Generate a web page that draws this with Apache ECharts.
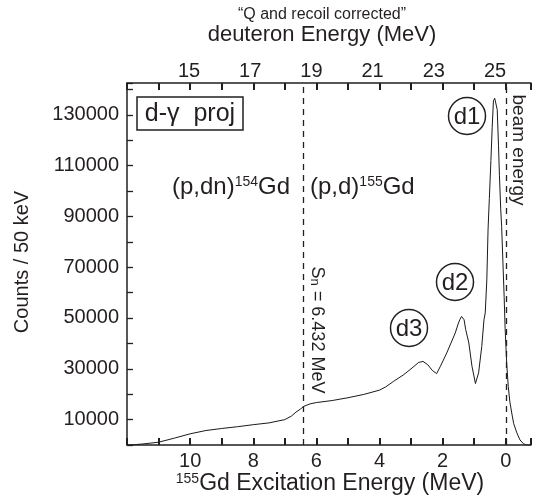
<!DOCTYPE html>
<html><head><meta charset="utf-8">
<script src="https://cdn.jsdelivr.net/npm/echarts@6/dist/echarts.min.js"></script>
<style>html,body{margin:0;padding:0;background:#fff}#c{width:534px;height:504px}</style>
</head><body><div id="c"></div>
<script>
// ---- data ----
const excitationMeV = [12.0, 11.8, 11.5, 11.0, 10.5, 10.0, 9.5, 9.0, 8.5, 8.0, 7.5, 7.0, 6.8, 6.65, 6.5, 6.4, 6.2, 6.0, 5.5, 5.0, 4.5, 4.0, 3.8, 3.55, 3.23, 2.97, 2.76, 2.62, 2.47, 2.33, 2.19, 2.07, 1.87, 1.6, 1.5, 1.45, 1.4, 1.37, 1.32, 1.27, 1.17, 1.07, 0.96, 0.86, 0.76, 0.69, 0.65, 0.6, 0.56, 0.52, 0.47, 0.43, 0.39, 0.35, 0.31, 0.27, 0.23, 0.2, 0.16, 0.13, 0.09, 0.05, 0.02, -0.03, -0.08, -0.13, -0.19, -0.25, -0.35, -0.45, -0.56, -0.65, -0.8];
const counts = [0, 100, 400, 1100, 2700, 4400, 5700, 6500, 7200, 8000, 8700, 10000, 11300, 12900, 14200, 15200, 16200, 16700, 17500, 18600, 19900, 21600, 22900, 25100, 27700, 30300, 32500, 32900, 31600, 29400, 28100, 31000, 36200, 44100, 48000, 49500, 50600, 51000, 49300, 45500, 40200, 31000, 24200, 28400, 38800, 49300, 52000, 65000, 85000, 97000, 112000, 125000, 135500, 136500, 136000, 132000, 118000, 106000, 93000, 86000, 72000, 58000, 46000, 32000, 23000, 17000, 12600, 8500, 4800, 2000, 500, 0, 0];
const yTickLabels = [10000, 30000, 50000, 70000, 90000, 110000, 130000];
const bottomTickLabels = [10, 8, 6, 4, 2, 0];
const topTickLabels = [15, 17, 19, 21, 23, 25];
const snEnergy = 6.432;
const beamEnergy = 0;

const FONT = 'Liberation Sans, Arial, sans-serif';
const INK = '#231f20';
const seriesData = excitationMeV.map((x, i) => [x, counts[i]]);

function mkTick() {
  return {show: true, inside: true, interval: 0, alignWithLabel: false, length: 7, lineStyle: {color: INK, width: 2}};
}
function mkLine() {
  return {show: true, onZero: false, lineStyle: {color: INK, width: 1.5}};
}
const center = {align: 'center', verticalAlign: 'middle', textAlign: 'center', textVerticalAlign: 'middle'};
const left = {align: 'left', verticalAlign: 'middle', textAlign: 'left', textVerticalAlign: 'middle'};

const chart = echarts.init(document.getElementById('c'));
chart.setOption({
  animation: false,
  grid: {left: 127, right: 3, top: 83, bottom: 59, containLabel: false, outerBoundsMode: 'none'},
  xAxis: [
    {type: 'value', position: 'bottom', min: -0.8, max: 12, inverse: true, minInterval: 1, maxInterval: 1, z: 5,
      axisLine: mkLine(), splitLine: {show: false}, axisTick: mkTick(),
      axisLabel: {show: true, interval: 0, margin: 6, fontSize: 20, fontFamily: FONT, color: INK, hideOverlap: false,
        formatter: v => bottomTickLabels.includes(v) ? String(v) : ''}},
    {type: 'value', position: 'top', min: -0.8, max: 12, inverse: true, minInterval: 1, maxInterval: 1, z: 5,
      axisLine: mkLine(), splitLine: {show: false}, axisTick: mkTick(), axisLabel: {show: false}},
    {type: 'value', position: 'top', min: 12.974, max: 26.176, minInterval: 1, maxInterval: 1,
      axisLine: {show: false, onZero: false}, axisTick: {show: false}, splitLine: {show: false},
      axisLabel: {show: true, interval: 0, margin: 2, fontSize: 20, fontFamily: FONT, color: INK,
        formatter: v => topTickLabels.includes(v) ? String(v) : ''}}
  ],
  yAxis: {
    type: 'value', min: 0, max: 142500, interval: 10000,
    axisLine: mkLine(), splitLine: {show: false}, axisTick: {show: true, inside: true, interval: 0, length: 6, lineStyle: {color: INK, width: 1.3}},
    axisLabel: {show: true, interval: 0, margin: 8, fontSize: 20, fontFamily: FONT, color: INK,
      formatter: v => yTickLabels.includes(v) ? String(v) : ''}
  },
  series: [{
    type: 'line', xAxisIndex: 0, yAxisIndex: 0, data: seriesData, showSymbol: false,
    lineStyle: {color: '#1a1a1a', width: 1},
    markLine: {
      silent: true, symbol: ['none', 'none'], label: {show: false},
      lineStyle: {color: INK, type: [6, 5], width: 1.3},
      data: [{xAxis: snEnergy}, {xAxis: beamEnergy}]
    }
  }],
  graphic: [
    {type: 'text', x: 322, y: 15, style: Object.assign({text: '\u201cQ and recoil corrected\u201d', font: '16px ' + FONT, fill: INK}, center)},
    {type: 'text', x: 322, y: 35, style: Object.assign({text: 'deuteron Energy (MeV)', font: '22px ' + FONT, fill: INK}, center)},
    {type: 'text', x: 22, y: 262, rotation: Math.PI / 2, style: Object.assign({text: 'Counts / 50 keV', font: '20px ' + FONT, fill: INK}, center)},
    {type: 'text', x: 330, y: 484, style: Object.assign({text: '{s|155}{n|Gd Excitation Energy (MeV)}', fill: INK,
      rich: {s: {fontSize: 14, fontFamily: FONT, fill: INK, verticalAlign: 'top'}, n: {fontSize: 23, fontFamily: FONT, fill: INK}}}, center)},
    {type: 'rect', shape: {x: 137, y: 97, width: 106, height: 33}, style: {fill: 'none', stroke: INK, lineWidth: 1.5}},
    {type: 'text', x: 190, y: 114, style: Object.assign({text: 'd-\u03b3  proj', font: '25px ' + FONT, fill: INK}, center)},
    {type: 'text', x: 172, y: 187, style: Object.assign({text: '{n|(p,dn)}{s|154}{n|Gd}', fill: INK,
      rich: {s: {fontSize: 14, fontFamily: FONT, fill: INK, verticalAlign: 'top'}, n: {fontSize: 24, fontFamily: FONT, fill: INK}}}, left)},
    {type: 'text', x: 310, y: 187, style: Object.assign({text: '{n|(p,d)}{s|155}{n|Gd}', fill: INK,
      rich: {s: {fontSize: 14, fontFamily: FONT, fill: INK, verticalAlign: 'top'}, n: {fontSize: 24, fontFamily: FONT, fill: INK}}}, left)},
    {type: 'circle', shape: {cx: 467, cy: 116, r: 18.5}, style: {fill: 'none', stroke: INK, lineWidth: 1.5}},
    {type: 'text', x: 467, y: 117, style: Object.assign({text: 'd1', font: '24px ' + FONT, fill: INK}, center)},
    {type: 'circle', shape: {cx: 455, cy: 282, r: 18.5}, style: {fill: 'none', stroke: INK, lineWidth: 1.5}},
    {type: 'text', x: 455, y: 283, style: Object.assign({text: 'd2', font: '24px ' + FONT, fill: INK}, center)},
    {type: 'circle', shape: {cx: 409, cy: 328, r: 18.5}, style: {fill: 'none', stroke: INK, lineWidth: 1.5}},
    {type: 'text', x: 409, y: 329, style: Object.assign({text: 'd3', font: '24px ' + FONT, fill: INK}, center)},
    {type: 'text', x: 317, y: 330, rotation: -Math.PI / 2, style: Object.assign({text: '{n|S}{b|n}{n| = 6.432 MeV}', fill: INK,
      rich: {n: {fontSize: 18, fontFamily: FONT, fill: INK}, b: {fontSize: 13, fontFamily: FONT, fill: INK, verticalAlign: 'bottom'}}}, center)},
    {type: 'text', x: 518, y: 150, rotation: -Math.PI / 2, style: Object.assign({text: 'beam energy', font: '19px ' + FONT, fill: INK}, center)}
  ]
});
</script>
</body></html>
